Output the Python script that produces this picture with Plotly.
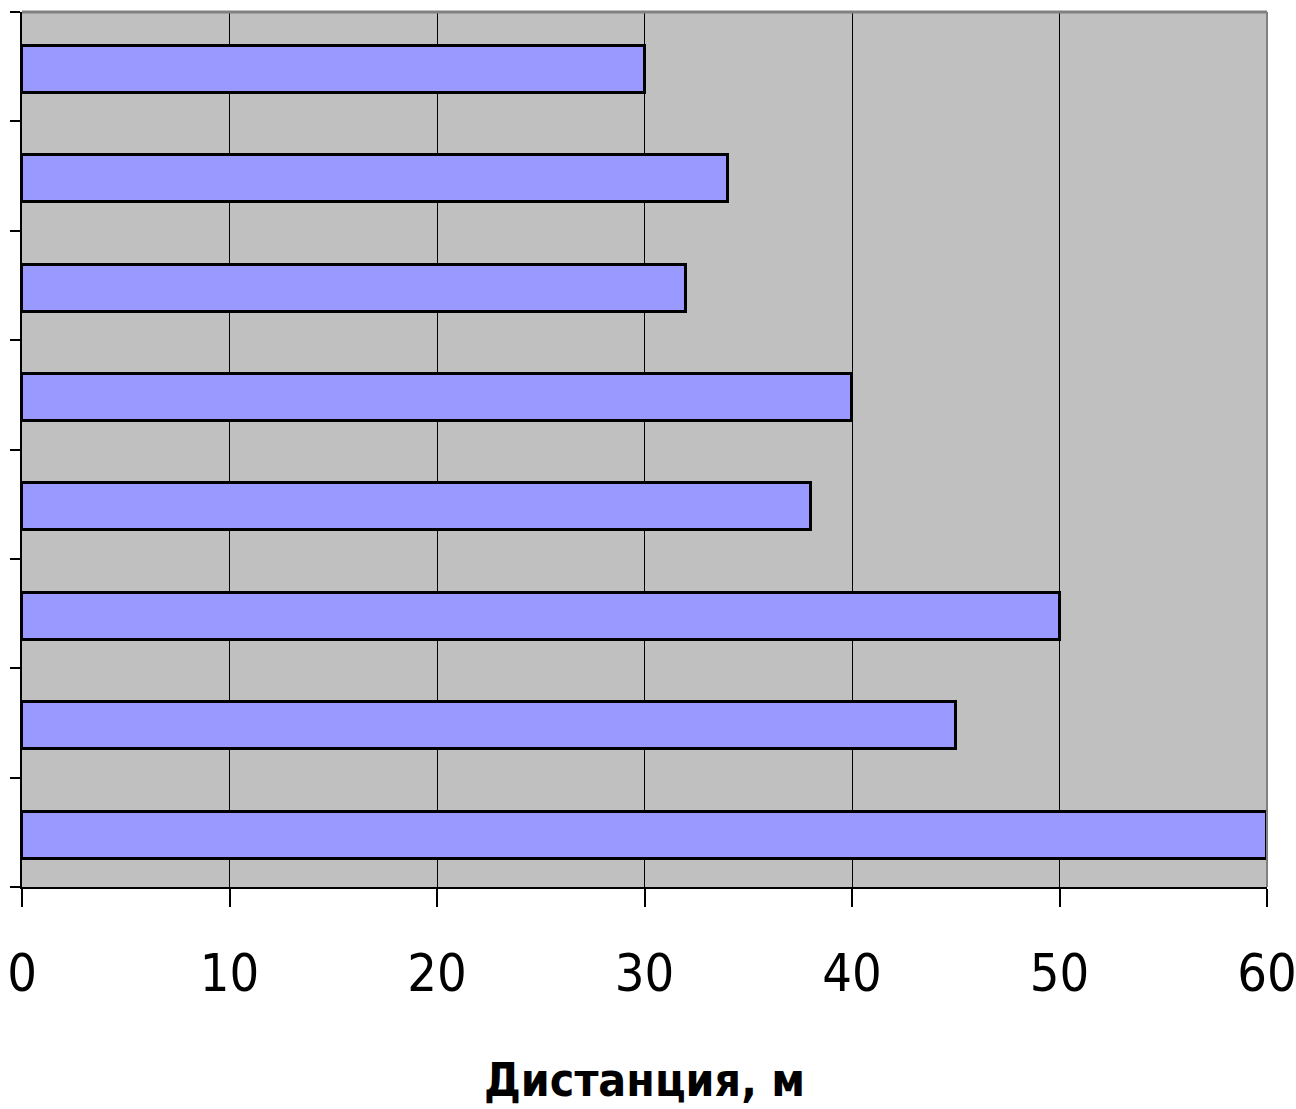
import plotly.graph_objects as go

# categories from bottom to top (positions along the y axis)
categories = [1, 2, 3, 4, 5, 6, 7, 8]
distances = [60, 45, 50, 38, 40, 32, 34, 30]
x_ticks = [0, 10, 20, 30, 40, 50, 60]
x_title = "Дистанция, м"

positions = [c - 0.5 for c in categories]
FONT = "DejaVu Sans Condensed, Liberation Sans Narrow, Arial Narrow, sans-serif"

fig = go.Figure(
    go.Bar(
        x=distances,
        y=positions,
        orientation="h",
        width=0.43,
        offset=-0.24,
        marker=dict(color="#9999FF", line=dict(color="black", width=3)),
    )
)

fig.update_layout(
    width=1296,
    height=1109,
    margin=dict(l=22, r=29, t=12, b=222, autoexpand=False),
    paper_bgcolor="white",
    plot_bgcolor="#C0C0C0",
    showlegend=False,
    bargap=0,
)

fig.update_xaxes(
    range=[0, 60],
    tickvals=x_ticks,
    ticktext=[str(t) for t in x_ticks],
    showgrid=True,
    gridcolor="black",
    gridwidth=1,
    zeroline=False,
    showline=True,
    linecolor="black",
    linewidth=2,
    ticks="outside",
    ticklen=18,
    tickwidth=2,
    tickcolor="black",
    ticklabelstandoff=22,
    ticklabeloverflow="allow",
    automargin=False,
    tickfont=dict(family=FONT, size=52, color="black"),
)

fig.update_yaxes(
    range=[0, len(categories)],
    tickvals=list(range(0, len(categories) + 1)),
    showticklabels=False,
    showgrid=False,
    zeroline=False,
    showline=True,
    linecolor="black",
    linewidth=2,
    ticks="outside",
    ticklen=10,
    tickwidth=2,
    tickcolor="black",
    automargin=False,
)

# axis title
fig.add_annotation(
    text=x_title, xref="paper", yref="paper", x=0.5, y=0,
    yshift=-193, xanchor="center", yanchor="middle", showarrow=False,
    font=dict(family=FONT, size=46, color="black", weight="bold"),
)

# gray top and right frame lines
fig.add_shape(type="line", xref="paper", yref="paper", x0=0, x1=1, y0=1, y1=1,
              line=dict(color="#808080", width=3), layer="above")
fig.add_shape(type="line", xref="paper", yref="paper", x0=1, x1=1, y0=0, y1=1,
              line=dict(color="#808080", width=2), layer="above")

fig.write_html(
    "out.html",
    config={"displayModeBar": False},
    post_script="document.body.style.margin='0';document.body.style.overflow='hidden';",
)
